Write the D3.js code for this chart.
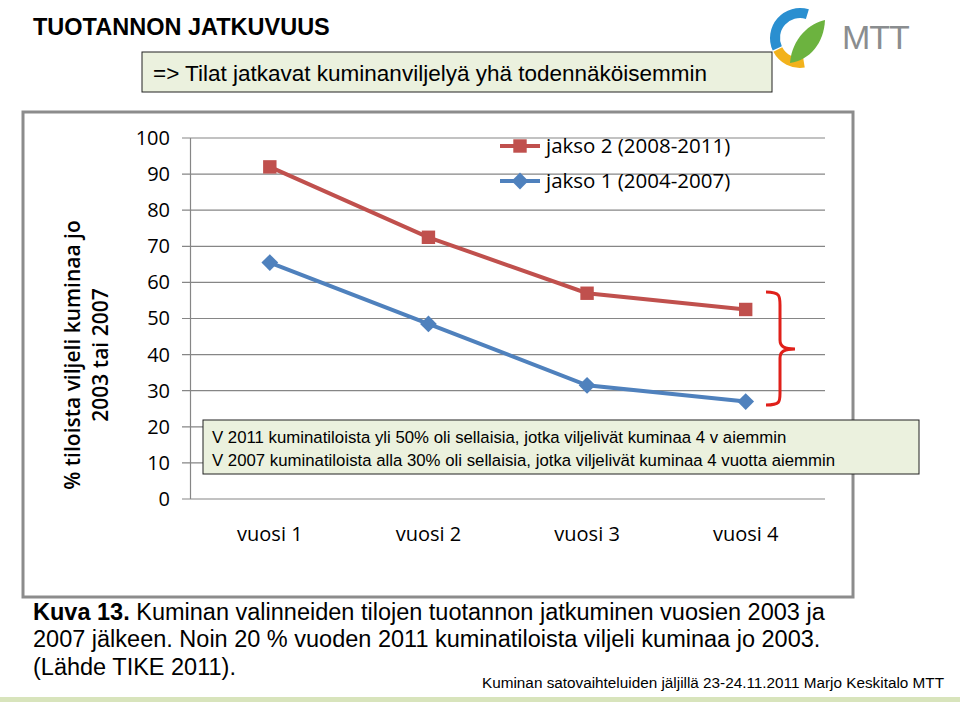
<!DOCTYPE html>
<html><head><meta charset="utf-8">
<script src="https://cdn.jsdelivr.net/npm/d3@7"></script>
<style>body{margin:0;background:#fff}svg{display:block}</style>
</head><body><div id="chart"></div>
<script>
// data
const categories = ["vuosi 1", "vuosi 2", "vuosi 3", "vuosi 4"];
const jakso2 = [92, 72.5, 57, 52.5];
const jakso1 = [65.5, 48.5, 31.5, 27];
const yTicks = [0, 10, 20, 30, 40, 50, 60, 70, 80, 90, 100];

const svg = d3.select("#chart").append("svg").attr("width", 960).attr("height", 702);
const AR = "Liberation Sans, Arial, sans-serif";
const CAL = "Open Sans, sans-serif";

// header
svg.append("text").attr("x", 33).attr("y", 35).text("TUOTANNON JATKUVUUS")
    .attr("style", `font: bold 23.5px ${AR}; fill:#000`);
svg.append("rect").attr("x", 142).attr("y", 52).attr("width", 630).attr("height", 40)
    .attr("fill", "#ebf1de").attr("stroke", "#222");
svg.append("text").attr("x", 153).attr("y", 81).text("=> Tilat jatkavat kuminanviljelyä yhä todennäköisemmin")
    .attr("style", `font: 22.5px ${AR}; fill:#000`);

// logo
const logo = svg.append("g").attr("transform", "translate(800,38)");
logo.append("path").attr("d", d3.arc()({innerRadius: 20, outerRadius: 30, startAngle: -2.0, endAngle: 0.3})).attr("fill", "#2a8fd0");
logo.append("path").attr("d", d3.arc()({innerRadius: 20, outerRadius: 30, startAngle: -3.3, endAngle: -2.05})).attr("fill", "#f2b21c");
logo.append("path").attr("d", "M-10,25 C-8,0 10,-15 25,-18 C24,5 10,22 -10,25Z").attr("fill", "#6cb33f");
svg.append("text").attr("x", 842).attr("y", 49).text("MTT")
    .attr("style", `font: 34px ${AR}; fill:#8a8d8f; letter-spacing:-1px`);

// chart frame
svg.append("rect").attr("x", 23).attr("y", 112).attr("width", 830).attr("height", 485)
    .attr("fill", "#fff").attr("stroke", "#8c8c8c").attr("stroke-width", 3);

const x = d3.scaleBand().domain(categories).range([190.5, 825]);
const y = d3.scaleLinear().domain([0, 100]).range([499, 138]);

// gridlines
svg.append("g").selectAll("line").data(yTicks).join("line")
    .attr("x1", 182).attr("x2", 825).attr("y1", d => y(d)).attr("y2", d => y(d))
    .attr("stroke", "#868686").attr("stroke-width", 1.2);
svg.append("line").attr("x1", 190.5).attr("x2", 190.5).attr("y1", y(100)).attr("y2", y(0))
    .attr("stroke", "#868686").attr("stroke-width", 1.2);

const yAxis = svg.append("g").attr("transform", "translate(182,0)")
    .call(d3.axisLeft(y).tickValues(yTicks).tickSize(0).tickPadding(12));
yAxis.select(".domain").remove();
yAxis.selectAll("text").attr("style", `font: 20px ${CAL}; fill:#000`);

const xAxis = svg.append("g").attr("transform", "translate(0,499)")
    .call(d3.axisBottom(x).tickSize(0).tickPadding(28));
xAxis.select(".domain").remove();
xAxis.selectAll("text").attr("style", `font: 20px ${CAL}; fill:#000`);

// y title
const yt = svg.append("text").attr("transform", "translate(0,355) rotate(-90)")
    .attr("text-anchor", "middle").attr("style", `font: 600 21px ${CAL}; fill:#000`);
yt.append("tspan").attr("x", 0).attr("y", 80).text("% tiloista viljeli kuminaa jo");
yt.append("tspan").attr("x", 0).attr("y", 108).text("2003 tai 2007");

// lines
const diamond = {draw(ctx, s) { const r = Math.sqrt(s) / 1.6; ctx.moveTo(0, -r); ctx.lineTo(r, 0); ctx.lineTo(0, r); ctx.lineTo(-r, 0); ctx.closePath(); }};
const line = d3.line().x((d, i) => x(categories[i]) + x.bandwidth() / 2).y(d => y(d));
const series = [
    {vals: jakso2, color: "#c0504d", shape: d3.symbolSquare, size: 180},
    {vals: jakso1, color: "#4f81bd", shape: diamond, size: 180}
];
series.forEach(s => {
    svg.append("path").attr("d", line(s.vals)).attr("fill", "none")
        .attr("stroke", s.color).attr("stroke-width", 4);
    svg.append("g").selectAll("path").data(s.vals).join("path")
        .attr("transform", (d, i) => `translate(${x(categories[i]) + x.bandwidth() / 2},${y(d)})`)
        .attr("d", d3.symbol(s.shape, s.size)).attr("fill", s.color);
});

// legend
const legend = [
    {label: "jakso 2 (2008-2011)", s: series[0], yy: 146},
    {label: "jakso 1 (2004-2007)", s: series[1], yy: 181}
];
legend.forEach(l => {
    svg.append("line").attr("x1", 500).attr("x2", 540).attr("y1", l.yy).attr("y2", l.yy)
        .attr("stroke", l.s.color).attr("stroke-width", 4);
    svg.append("path").attr("transform", `translate(520,${l.yy})`)
        .attr("d", d3.symbol(l.s.shape, l.s.size)).attr("fill", l.s.color);
    svg.append("text").attr("x", 546).attr("y", l.yy + 7).text(l.label)
        .attr("style", `font: 20.5px ${CAL}; fill:#000`);
});

// brace
svg.append("path").attr("d", "M766,292 C780,292 780,296 780,305 L780,340 C780,347 785,349 795,349 C785,349 780,351 780,358 L780,393 C780,402 780,405 766,405")
    .attr("fill", "none").attr("stroke", "#e0201a").attr("stroke-width", 3);

// annotation
svg.append("rect").attr("x", 203).attr("y", 420).attr("width", 716).attr("height", 54)
    .attr("fill", "#ebf1de").attr("stroke", "#222");
svg.append("text").attr("x", 212).attr("y", 443).text("V 2011 kuminatiloista yli 50% oli sellaisia, jotka viljelivät kuminaa 4 v aiemmin")
    .attr("style", `font: 16.8px ${AR}; fill:#000`);
svg.append("text").attr("x", 212).attr("y", 466).text("V 2007 kuminatiloista alla 30% oli sellaisia, jotka viljelivät kuminaa 4 vuotta aiemmin")
    .attr("style", `font: 16.8px ${AR}; fill:#000`);

// caption
const cap = svg.append("text").attr("style", `font: 23.5px ${AR}; fill:#000`);
cap.append("tspan").attr("x", 33).attr("y", 620).attr("font-weight", "bold").text("Kuva 13.");
cap.append("tspan").text(" Kuminan valinneiden tilojen tuotannon jatkuminen vuosien 2003 ja");
svg.append("text").attr("x", 33).attr("y", 647).text("2007 jälkeen. Noin 20 % vuoden 2011 kuminatiloista viljeli kuminaa jo 2003.")
    .attr("style", `font: 23.5px ${AR}; fill:#000`);
svg.append("text").attr("x", 33).attr("y", 675).text("(Lähde TIKE 2011).")
    .attr("style", `font: 23.5px ${AR}; fill:#000`);
svg.append("text").attr("x", 944).attr("y", 688).attr("text-anchor", "end")
    .text("Kuminan satovaihteluiden jäljillä 23-24.11.2011 Marjo Keskitalo MTT")
    .attr("style", `font: 15.3px ${AR}; fill:#000`);
svg.append("rect").attr("x", 0).attr("y", 697).attr("width", 960).attr("height", 5).attr("fill", "#d8e4bc");
</script></body></html>
